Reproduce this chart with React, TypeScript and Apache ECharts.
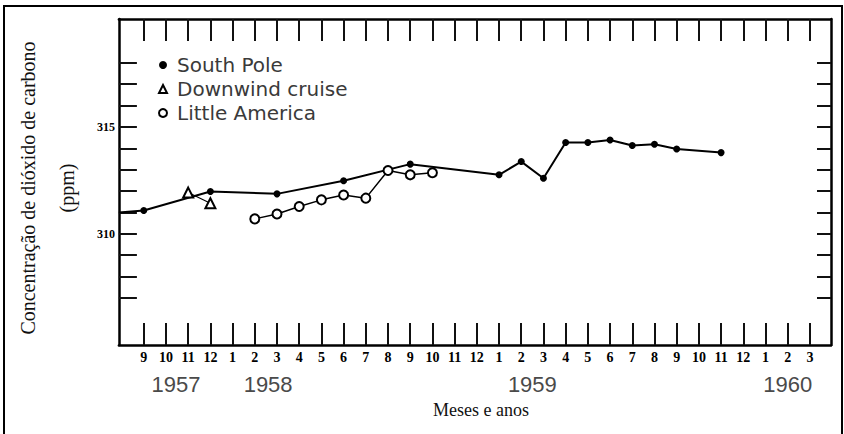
import React, { useEffect, useRef } from 'react';
import * as echarts from 'echarts';

// Month tick labels, Sep 1957 (index 0) .. Mar 1960 (index 30)
const monthLabels = ['9', '10', '11', '12', '1', '2', '3', '4', '5', '6', '7', '8', '9', '10', '11', '12', '1', '2', '3', '4', '5', '6', '7', '8', '9', '10', '11', '12', '1', '2', '3'];
const monthIndex = monthLabels.map((_, i) => i);
const yearLabels = ['1957', '1958', '1959', '1960'];
const yearLabelMonth = [1.45, 5.6, 17.5, 29.0];
const ppmTicks = [307, 308, 309, 310, 311, 312, 313, 314, 315, 316, 317, 318];
const ppmLabels = [310, 315];

const seriesNames = ['South Pole', 'Downwind cruise', 'Little America'];

const southPoleEntry = 311.0; // value where the trace enters the frame at the left edge
const southPoleMonth = [0, 3, 6, 9, 12, 16, 17, 18, 19, 20, 21, 22, 23, 24, 26];
const southPolePpm = [311.09, 311.98, 311.87, 312.48, 313.26, 312.76, 313.38, 312.6, 314.27, 314.27, 314.39, 314.13, 314.19, 313.97, 313.8];

const downwindMonth = [2, 3];
const downwindPpm = [311.93, 311.43];

const littleAmericaMonth = [5, 6, 7, 8, 9, 10, 11, 12, 13];
const littleAmericaPpm = [310.7, 310.93, 311.28, 311.59, 311.82, 311.67, 312.96, 312.76, 312.86];

const X_MIN = -1.12;
const X_MAX = 30.95;
const Y_MIN = 304.8;
const Y_MAX = 320.05;

export default function App() {
  const ref = useRef<HTMLDivElement>(null);

  useEffect(() => {
    if (!ref.current) return;
    const chart = echarts.init(ref.current, null, { renderer: 'svg' });

    const axisLine = { show: true, onZero: false, lineStyle: { color: '#000', width: 2.5 } };
    const tickStyle = { color: '#111', width: 2 };

    const southData: any[] = [{ value: [X_MIN, southPoleEntry], symbol: 'none' }];
    southPoleMonth.forEach((m, i) => southData.push([m, southPolePpm[i]]));

    chart.setOption({
      animation: false,
      backgroundColor: '#fff',
      grid: { left: 118, top: 19, width: 713, height: 326, containLabel: false },
      legend: {
        orient: 'vertical',
        left: 153,
        top: 50,
        itemWidth: 8,
        itemHeight: 8,
        itemGap: 4,
        data: [
          { name: seriesNames[0], icon: 'circle' },
          { name: seriesNames[1], icon: 'emptyTriangle' },
          { name: seriesNames[2], icon: 'emptyCircle' },
        ],
        textStyle: {
          fontFamily: 'DejaVu Sans',
          fontSize: 20,
          lineHeight: 20,
          color: '#3a3a3a',
          padding: [0, 0, 0, 5],
        },
      },
      xAxis: [
        {
          type: 'value',
          position: 'bottom',
          min: X_MIN,
          max: X_MAX,
          axisLine,
          splitLine: { show: false },
          axisTick: { show: true, inside: true, length: 22, lineStyle: tickStyle, customValues: monthIndex },
          axisLabel: {
            customValues: monthIndex,
            formatter: (v: number) => monthLabels[Math.round(v)] ?? '',
            fontFamily: 'Liberation Serif',
            fontWeight: 'bold',
            fontSize: 14,
            color: '#000',
            margin: 5,
          },
          name: 'Meses e anos',
          nameLocation: 'middle',
          nameGap: 56,
          nameTextStyle: { fontFamily: 'Liberation Serif', fontSize: 18, color: '#111', padding: [0, 0, 0, 12] },
        },
        {
          type: 'value',
          position: 'top',
          min: X_MIN,
          max: X_MAX,
          axisLine,
          splitLine: { show: false },
          axisTick: { show: true, inside: true, length: 22, lineStyle: tickStyle, customValues: monthIndex },
          axisLabel: { show: false },
        },
        {
          type: 'value',
          position: 'bottom',
          min: X_MIN,
          max: X_MAX,
          axisLine: { show: false, onZero: false },
          splitLine: { show: false },
          axisTick: { show: false },
          axisLabel: {
            customValues: yearLabelMonth,
            formatter: (v: number) => {
              let best = 0;
              yearLabelMonth.forEach((p, i) => {
                if (Math.abs(p - v) < Math.abs(yearLabelMonth[best] - v)) best = i;
              });
              return yearLabels[best];
            },
            fontFamily: 'Liberation Sans',
            fontSize: 22,
            color: '#4a4a4a',
            margin: 28,
          },
        },
      ],
      yAxis: [
        {
          type: 'value',
          position: 'left',
          min: Y_MIN,
          max: Y_MAX,
          axisLine,
          splitLine: { show: false },
          axisTick: { show: true, inside: true, length: 18, lineStyle: tickStyle, customValues: ppmTicks },
          axisLabel: {
            customValues: ppmLabels,
            formatter: (v: number) => String(Math.round(v)),
            fontFamily: 'Liberation Serif',
            fontWeight: 'bold',
            fontSize: 12,
            color: '#000',
            margin: 4,
          },
          name: 'Concentração de dióxido de carbono\n(ppm)',
          nameLocation: 'middle',
          nameRotate: 90,
          nameGap: 32,
          nameTextStyle: {
            fontFamily: 'Liberation Serif',
            fontSize: 20,
            lineHeight: 39,
            color: '#111',
            align: 'center',
            padding: [0, 12, 0, 0],
          },
        },
        {
          type: 'value',
          position: 'right',
          min: Y_MIN,
          max: Y_MAX,
          axisLine,
          splitLine: { show: false },
          axisTick: { show: true, inside: true, length: 14, lineStyle: tickStyle, customValues: ppmTicks },
          axisLabel: { show: false },
        },
      ],
      series: [
        {
          name: seriesNames[0],
          type: 'line',
          xAxisIndex: 0,
          yAxisIndex: 0,
          data: southData,
          symbol: 'circle',
          symbolSize: 7,
          itemStyle: { color: '#000' },
          lineStyle: { color: '#000', width: 2 },
          z: 2,
        },
        {
          name: seriesNames[1],
          type: 'line',
          xAxisIndex: 0,
          yAxisIndex: 0,
          data: downwindMonth.map((m, i) => [m, downwindPpm[i]]),
          symbol: 'emptyTriangle',
          symbolSize: 10,
          itemStyle: { color: '#000', borderColor: '#000', borderWidth: 1.5 },
          lineStyle: { color: '#000', width: 1.2 },
          z: 3,
        },
        {
          name: seriesNames[2],
          type: 'line',
          xAxisIndex: 0,
          yAxisIndex: 0,
          data: littleAmericaMonth.map((m, i) => [m, littleAmericaPpm[i]]),
          symbol: 'emptyCircle',
          symbolSize: 9,
          itemStyle: { color: '#000', borderColor: '#000', borderWidth: 1.5 },
          lineStyle: { color: '#000', width: 1.5 },
          z: 4,
        },
      ],
      graphic: [
        {
          type: 'rect',
          shape: { x: 4, y: 6, width: 838, height: 440 },
          style: { fill: 'none', stroke: '#000', lineWidth: 2 },
          silent: true,
          z: -1,
        },
      ],
    });

    return () => chart.dispose();
  }, []);

  return (
    <div
      ref={ref}
      style={{ position: 'absolute', left: 0, top: 0, width: 844, height: 434 }}
    />
  );
}
